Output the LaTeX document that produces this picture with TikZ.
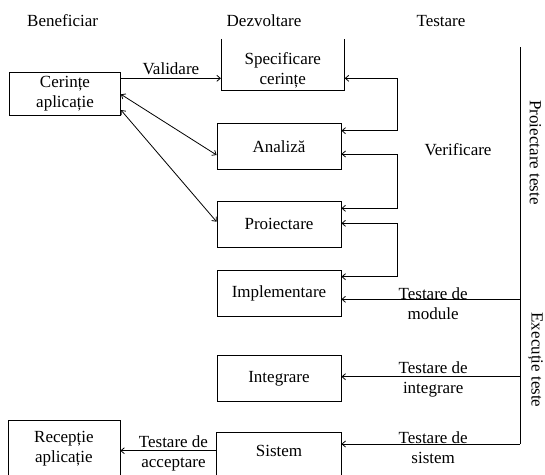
\documentclass[tikz,border=0pt]{standalone}
\usepackage{fontspec}
\setmainfont{Liberation Serif}
\usetikzlibrary{positioning,arrows.meta}

\begin{document}
\begin{tikzpicture}[x=1pt,y=-1pt,line width=0.8pt,font=\fontsize{17}{20}\selectfont,
    >={Straight Barb[length=3.5pt,width=6pt]},
    box/.style={draw,align=center,inner sep=2pt,minimum width=124pt,minimum height=46pt},
    openbox/.style={box,draw=none},
    lbl/.style={align=center,inner sep=1pt}, ar/.style={->}, dar/.style={<->}]
  \useasboundingbox (0,0) rectangle (545,474);
  \clip (0,0) rectangle (545,474);
  % column titles
  \node[lbl] (ben) at (62.6,20.7) {Beneficiar};
  \node[lbl] (dez) at (264,20.7) {Dezvoltare};
  \node[lbl] (tst) at (441,20.7) {Testare};
  % development chain
  \node[box] (ana) at (279,146.7) {Analiză};
  \node[openbox,above=33pt of ana,xshift=3.8pt,minimum width=123pt,minimum height=39pt] (spec) {Specificare\\cerințe};
  \node[box,below=30.5pt of ana] (proi) {Proiectare};
  \node[box,below=23pt of proi] (impl) {Implementare};
  \node[box,below=38pt of impl] (integ) {Integrare};
  \node[openbox,below=30pt of integ,minimum height=38pt] (sys) {Sistem};
  \draw ([yshift=11pt]spec.north west) |- (spec.south east) -- ([yshift=11pt]spec.north east);
  \draw ([yshift=-12pt]sys.south west) |- (sys.north east) -- ([yshift=-12pt]sys.south east);
  % client side
  \node[box,minimum width=111pt,minimum height=43pt] (cer) at (65,93.7) {Cerințe\\aplicație};
  \node[box,minimum width=112pt,minimum height=56pt] (rec) at (63.9,448.5) {Recepție\\aplicație};
  \draw[ar] (cer.east |- 0,78.3) -- (spec.west |- 0,78.3) node[lbl,midway,above=2pt] (val) {Validare};
  \draw[dar] (cer.east |- 0,94.3) -- (ana.west |- 0,155);
  \draw[dar] (cer.east |- 0,110) -- (proi.west |- 0,221.7);
  \draw[ar] (sys.west |- 0,450.7) -- (rec.east |- 0,450.7) node[lbl,midway,xshift=5pt,yshift=-2.6pt] (acc) {Testare de\\acceptare};
  % verification loops
  \draw[dar] (spec.east |- 0,78.3) -- ++(52.7,0) |- (ana.east |- 0,130.7);
  \draw[dar] (ana.east |- 0,154) -- ++(56,0) |- (proi.east |- 0,208.3);
  \draw[dar] (proi.east |- 0,223.3) -- ++(56,0) |- (impl.east |- 0,276.7);
  \node[lbl] (ver) at (458,150) {Verificare};
  % testing
  \coordinate (tt) at (520,47);
  \coordinate (tb) at (520,444);
  \draw (tt) -- (tb);
  \draw[ar] (tt |- 0,299.3) -- (impl.east |- 0,299.3) node[lbl,midway,xshift=2.5pt,yshift=-4pt] (tmod) {Testare de\\module};
  \draw[ar] (tt |- 0,376.7) -- (integ.east |- 0,376.7) node[lbl,midway,xshift=2.5pt,yshift=-2.5pt] (tint) {Testare de\\integrare};
  \draw[ar] (tb) -- (sys.east |- tb) node[lbl,midway,xshift=2.5pt,yshift=-3.5pt] (tsys) {Testare de\\sistem};
  \node[lbl,rotate=-90] (pt) at (535.5,152.5) {Proiectare teste};
  \node[lbl,rotate=-90] (et) at (535.5,360) {Execuție teste};
\end{tikzpicture}
\end{document}
